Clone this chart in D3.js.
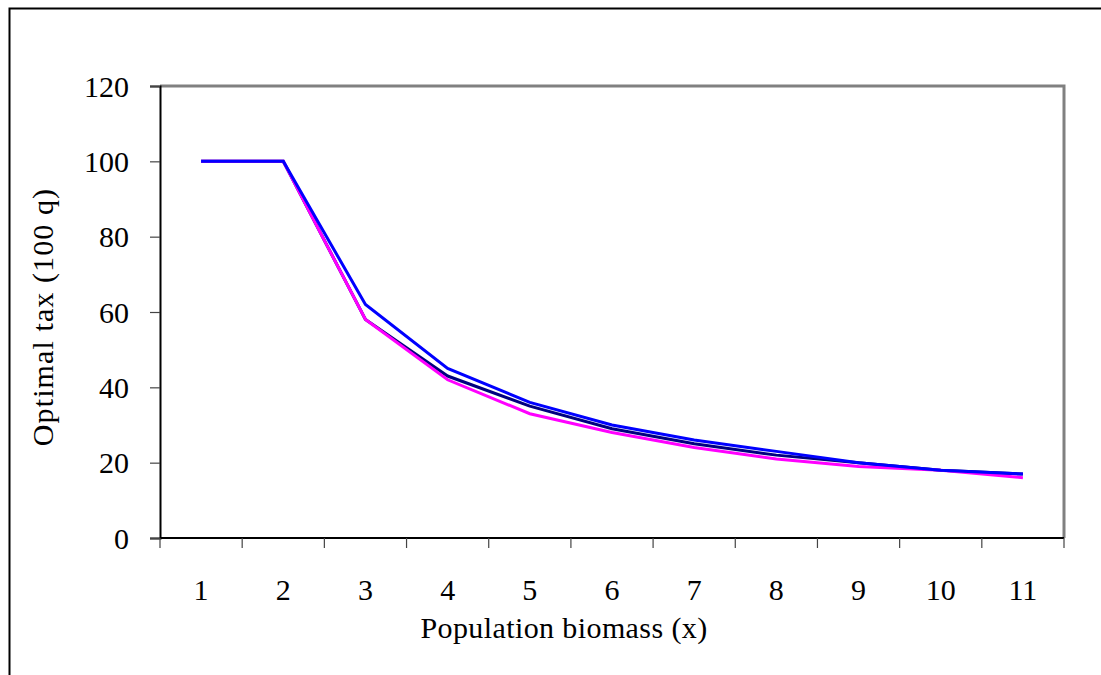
<!DOCTYPE html>
<html>
<head>
<meta charset="utf-8">
<script src="https://cdn.jsdelivr.net/npm/d3@7"></script>
<style>
  html, body { margin: 0; padding: 0; background: #fff; }
  svg { display: block; }
  text { font-family: "Liberation Serif", "Times New Roman", serif; fill: #000; }
</style>
</head>
<body>
<svg id="chart" width="1101" height="675"></svg>
<script>
// Population biomass levels (category axis)
const biomass = ["1", "2", "3", "4", "5", "6", "7", "8", "9", "10", "11"];
// Optimal tax for three model variants
const taxNavy    = [100, 100, 58, 43, 35, 29, 25, 22, 20, 18, 17];
const taxMagenta = [100, 100, 58, 42, 33, 28, 24, 21, 19, 18, 16];
const taxBlue    = [100, 100, 62, 45, 36, 30, 26, 23, 20, 18, 17];
// Y axis ticks
const yTicks = [0, 20, 40, 60, 80, 100, 120];

const svg = d3.select("#chart");
const plot = { left: 160, top: 86, right: 1064, bottom: 538 };
const fontSize = 30;

// Outer frame
svg.append("rect")
  .attr("x", 9.5).attr("y", 8.5)
  .attr("width", 1200).attr("height", 800)
  .attr("fill", "none").attr("stroke", "#000").attr("stroke-width", 2);

const x = d3.scaleBand().domain(biomass).range([plot.left, plot.right]).paddingInner(0).paddingOuter(0);
const y = d3.scaleLinear().domain([0, 120]).range([plot.bottom, plot.top]);

// Plot area border (gray top & right)
svg.append("path")
  .attr("d", `M${plot.left},${plot.top}H${plot.right}V${plot.bottom}`)
  .attr("fill", "none").attr("stroke", "#808080").attr("stroke-width", 3);

// Y axis
const yAxis = svg.append("g")
  .attr("transform", `translate(${plot.left},0)`)
  .call(d3.axisLeft(y).tickValues(yTicks).tickSize(10).tickPadding(21).tickFormat(d3.format("d")));
yAxis.select(".domain").attr("stroke", "#000").attr("stroke-width", 2);
yAxis.selectAll(".tick line").attr("stroke", "#444").attr("stroke-width", 1.2);
yAxis.selectAll(".tick text")
  .attr("font-size", fontSize)
  .attr("font-family", "Liberation Serif")
  .attr("fill", "#000")
  .attr("dy", "0.34em");

// X axis: ticks at category boundaries, labels at centres
const xAxisG = svg.append("g").attr("transform", `translate(0,${plot.bottom})`);
xAxisG.append("line")
  .attr("x1", plot.left).attr("x2", plot.right)
  .attr("stroke", "#000").attr("stroke-width", 2);
const bounds = biomass.map(d => x(d)).concat([x(biomass[biomass.length - 1]) + x.bandwidth()]);
xAxisG.selectAll(".xtick").data(bounds).join("line")
  .attr("x1", d => d).attr("x2", d => d)
  .attr("y1", 0).attr("y2", 10)
  .attr("stroke", "#444").attr("stroke-width", 1.2);
xAxisG.selectAll(".xlabel").data(biomass).join("text")
  .attr("x", d => x(d) + x.bandwidth() / 2)
  .attr("y", 62)
  .attr("text-anchor", "middle")
  .attr("font-size", fontSize)
  .text(d => d);

// Axis titles
svg.append("text")
  .attr("x", 564)
  .attr("y", 638)
  .attr("text-anchor", "middle")
  .attr("font-size", fontSize)
  .attr("letter-spacing", 0.4)
  .text("Population biomass (x)");
svg.append("text")
  .attr("transform", `translate(53,317) rotate(-90)`)
  .attr("text-anchor", "middle")
  .attr("font-size", fontSize)
  .attr("letter-spacing", 1.1)
  .text("Optimal tax (100 q)");

// Series lines
const line = d3.line()
  .x((d, i) => x(biomass[i]) + x.bandwidth() / 2)
  .y(d => y(d));
const series = [
  { values: taxNavy, color: "#000080" },
  { values: taxMagenta, color: "#ff00ff" },
  { values: taxBlue, color: "#0000ff" }
];
svg.append("g").selectAll("path").data(series).join("path")
  .attr("d", d => line(d.values))
  .attr("fill", "none")
  .attr("stroke", d => d.color)
  .attr("stroke-width", 3)
  .attr("stroke-linejoin", "miter");
</script>
</body>
</html>
